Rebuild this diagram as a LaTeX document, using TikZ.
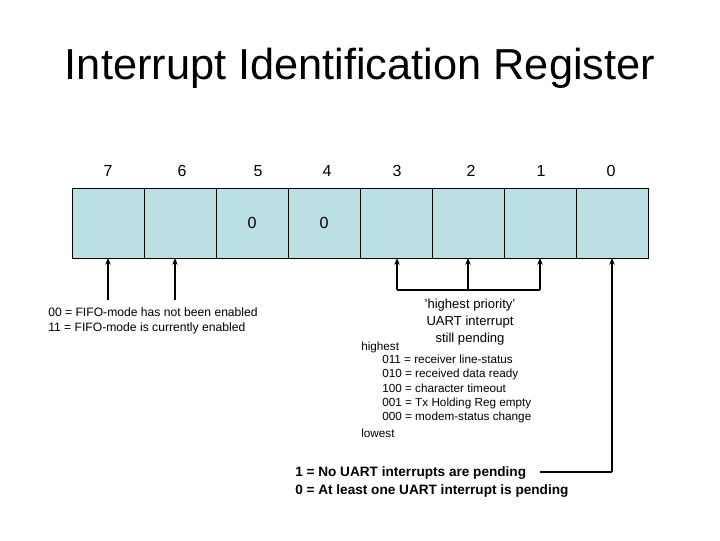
\documentclass[tikz,border=0pt]{standalone}
\usepackage{fontspec}
\setmainfont{Liberation Sans}
\usetikzlibrary{arrows.meta}
\begin{document}
\begin{tikzpicture}[x=0.75pt,y=-0.75pt,
  cell/.style={draw=black,fill=bitfill,minimum width=54pt,minimum height=52.5pt,inner sep=0,outer sep=0},
  lbl/.style={font=\fontsize{12}{14}\selectfont},
  small/.style={font=\fontsize{8.8}{10.8}\selectfont,align=left,inner sep=0},
  arr/.style={line width=1.2pt,-{Stealth[length=5pt,width=4pt]}}]
\definecolor{bitfill}{RGB}{187,224,227}
\useasboundingbox (0,0) rectangle (720,540);
\node[font=\fontsize{32.5}{38}\selectfont] (title) at (360,68) {Interrupt Identification Register};
\foreach \i/\v in {7/,6/,5/0,4/0,3/,2/,1/,0/}{
  \node[cell,lbl] (c\i) at ({72+36+(7-\i)*72},223) {\v};
}
\foreach \i/\x in {7/108,6/182,5/258,4/327,3/397,2/471,1/541,0/611}
  \node[lbl] (b\i) at (\x,171) {\i};
\coordinate (p7) at (108,300); \coordinate (p6) at (175,300);
\draw[arr] (p7) -- (108,258); \draw[arr] (p6) -- (175,258);
\coordinate (q3) at (397,290); \coordinate (q1) at (540,290);
\draw[line width=1.2pt] (q3) -- (q1);
\draw[arr] (q3) -- (397,258); \draw[arr] (468,290) -- (468,258); \draw[arr] (q1) -- (540,258);
\node[small,anchor=west,font=\fontsize{9.1}{11}\selectfont] (fifo) at (48,321) {00 = FIFO-mode has not been enabled\\11 = FIFO-mode is currently enabled};
\node[font=\fontsize{9.8}{13}\selectfont,align=center,inner sep=0] (prio) at (470,322) {'highest priority'\\UART interrupt\\still pending};
\node[small,anchor=west] (hi) at (361,347) {highest};
\node[small,anchor=west] (codes) at (382,389) {011 = receiver line-status\\010 = received data ready\\100 = character timeout\\001 = Tx Holding Reg empty\\000 = modem-status change};
\node[small,anchor=west] (lo) at (361,433) {lowest};
\node[font=\bfseries\fontsize{10.2}{12.8}\selectfont,align=left,inner sep=0,anchor=west] (pend) at (295,482) {1 = No UART interrupts are pending\\0 = At least one UART interrupt is pending};
\coordinate (r) at (612,472);
\draw[line width=1pt] (540,472) -- (r);
\draw[arr] (r) -- (612,258);
\end{tikzpicture}
\end{document}
